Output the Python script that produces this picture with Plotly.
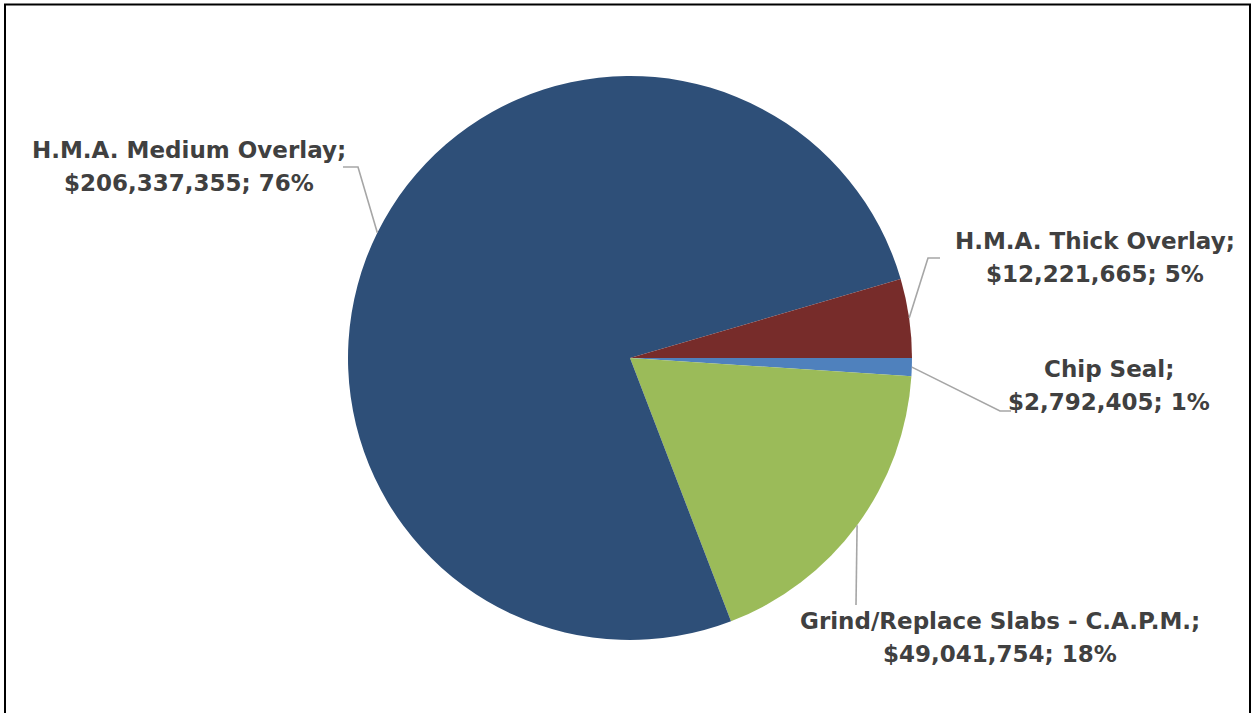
import math
import plotly.graph_objects as go

# Slice data, in drawing order (clockwise from 3 o'clock)
categories = ["Chip Seal", "Grind/Replace Slabs - C.A.P.M.", "H.M.A. Medium Overlay", "H.M.A. Thick Overlay"]
costs = [2792405, 49041754, 206337355, 12221665]
colors = ["#4F81BD", "#9BBB59", "#2E4F78", "#772C2A"]

W, H = 1254, 713
CX, CY, R = 630, 358, 282  # pie centre / radius in pixels
LINE_GAP = 33              # distance between the two label lines (pixels)

# label block centres and leader-line elbows / ends (pixels)
label_pos = {
    "Chip Seal": (1109, 385),
    "Grind/Replace Slabs - C.A.P.M.": (1000, 637),
    "H.M.A. Medium Overlay": (189, 166),
    "H.M.A. Thick Overlay": (1095, 258),
}
leader_path = {
    "Chip Seal": [(1000, 411), (1011, 411)],
    "Grind/Replace Slabs - C.A.P.M.": [(856, 605)],
    "H.M.A. Medium Overlay": [(358, 167), (343, 167)],
    "H.M.A. Thick Overlay": [(928, 258), (940, 258)],
}


def px(x):
    return x / W


def py(y):
    return 1 - y / H


fig = go.Figure(
    go.Pie(
        labels=categories,
        values=costs,
        sort=False,
        direction="clockwise",
        rotation=90,
        marker=dict(colors=colors, line=dict(width=0)),
        textinfo="none",
        hoverinfo="label+value+percent",
        showlegend=False,
        domain=dict(x=[px(CX - R), px(CX + R)], y=[py(CY + R), py(CY - R)]),
    )
)

label_font = dict(family="DejaVu Sans", size=23, color="#404040", weight="bold")

total = sum(costs)
shapes = []
annotations = []
start = 0.0
for name, val in zip(categories, costs):
    frac = val / total
    mid = (start + frac / 2) * 2 * math.pi  # clockwise from 3 o'clock
    start += frac
    ex = CX + R * math.cos(mid)
    ey = CY + R * math.sin(mid)
    pts = [(ex, ey)] + leader_path[name]
    path = "M " + " L ".join(f"{px(x)},{py(y)}" for x, y in pts)
    shapes.append(dict(type="path", path=path, xref="paper", yref="paper",
                       line=dict(color="#A6A6A6", width=1.6)))
    lx, ly = label_pos[name]
    lines = [f"{name};", f"${val:,.0f}; {frac * 100:.0f}%"]
    for i, txt in enumerate(lines):
        annotations.append(dict(
            x=px(lx), y=py(ly + (i - 0.5) * LINE_GAP), xref="paper", yref="paper",
            text=txt, showarrow=False, xanchor="center", yanchor="middle",
            font=label_font,
        ))

# chart frame
shapes.append(dict(type="rect", xref="paper", yref="paper",
                   x0=px(5), x1=px(1250), y0=-0.05, y1=py(4.5),
                   line=dict(color="black", width=2)))

fig.update_layout(
    width=W, height=H,
    margin=dict(l=0, r=0, t=0, b=0),
    paper_bgcolor="white", plot_bgcolor="white",
    shapes=shapes, annotations=annotations,
)

fig.write_html("out.html")
